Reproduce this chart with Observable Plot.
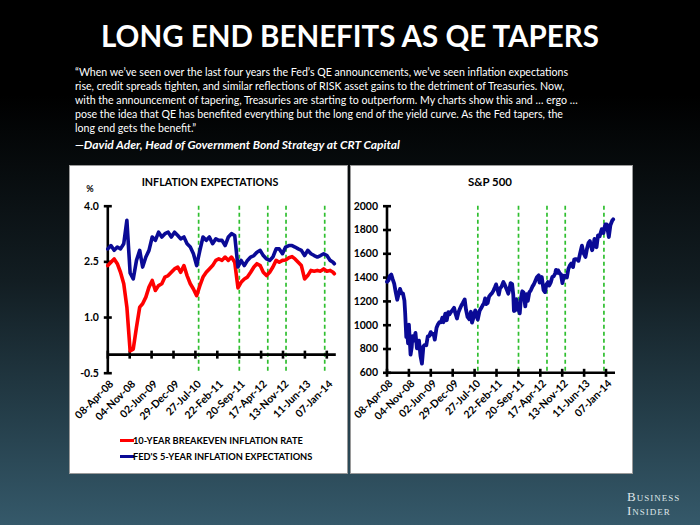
<!DOCTYPE html>
<html><head><meta charset="utf-8">
<script src="https://cdn.jsdelivr.net/npm/d3@7"></script>
<script src="https://cdn.jsdelivr.net/npm/@observablehq/plot@0.6"></script>
<style>
html,body{margin:0;padding:0;}
body{width:700px;height:525px;overflow:hidden;position:relative;
 background:linear-gradient(to bottom,#000 0px,#000 95px,#121d22 280px,#253f4b 420px,#35596a 525px);
 font-family:Lato,"Open Sans",sans-serif;}
.abs{position:absolute;white-space:nowrap;line-height:1;transform:translateY(-50%);}
.ctr{transform:translate(-50%,-50%);}
#title{color:#fff;font-weight:700;font-size:30px;left:350px;top:36px;}
.q{color:#fff;font-size:12px;left:75px;}
#attr{color:#fff;font-size:14px;font-weight:700;font-style:italic;left:75px;top:145px;}
.panel{position:absolute;background:#fff;box-shadow:0 0 0 1px #9a9a9a;overflow:visible;}
.ptitle{font-weight:700;font-size:12px;color:#000;}
.leg{font-weight:700;font-size:10px;color:#000;}
.sw{position:absolute;height:3px;width:14px;}
#bi{color:#dfe5e8;font-family:"Liberation Serif","DejaVu Serif",serif;font-variant:small-caps;letter-spacing:1px;font-size:13px;}
</style></head>
<body>
<div id="title" class="abs ctr">LONG END BENEFITS AS QE TAPERS</div>
<div id="q1" class="abs q" style="top:72px">“When we’ve seen over the last four years the Fed’s QE announcements, we’ve seen inflation expectations</div>
<div id="q2" class="abs q" style="top:86px">rise, credit spreads tighten, and similar reflections of RISK asset gains to the detriment of Treasuries. Now,</div>
<div id="q3" class="abs q" style="top:100px">with the announcement of tapering, Treasuries are starting to outperform. My charts show this and … ergo …</div>
<div id="q4" class="abs q" style="top:114px">pose the idea that QE has benefited everything but the long end of the yield curve. As the Fed tapers, the</div>
<div id="q5" class="abs q" style="top:128px">long end gets the benefit.”</div>
<div id="attr" class="abs">—David Ader, Head of Government Bond Strategy at CRT Capital</div>

<div id="pl" class="panel" style="left:70px;top:166px;width:277px;height:307px"></div>
<div id="pr" class="panel" style="left:351px;top:166px;width:281px;height:307px"></div>

<div id="t1" class="abs ctr ptitle" style="left:210px;top:182px">INFLATION EXPECTATIONS</div>
<div id="t2" class="abs ctr ptitle" style="left:490px;top:182px">S&amp;P 500</div>
<div class="abs ctr" style="left:90px;top:188px;font-weight:700;font-size:9px">%</div>

<div class="sw" style="left:120px;top:439px;background:#ff0000"></div>
<div id="l1" class="abs leg" style="left:133px;top:441px">10-YEAR BREAKEVEN INFLATION RATE</div>
<div class="sw" style="left:120px;top:455px;background:#0a0a96"></div>
<div id="l2" class="abs leg" style="left:133px;top:457px">FED'S 5-YEAR INFLATION EXPECTATIONS</div>

<div id="bi" class="abs" style="left:627px;top:504px;line-height:14px">Business<br>Insider</div>

<script>
// ---------- DATA ----------
const tickDates = ["2008-04-08","2008-11-04","2009-06-02","2009-12-29","2010-07-27","2011-02-22",
  "2011-09-20","2012-04-17","2012-11-13","2013-06-11","2014-01-07"];
const axisEndDate = "2014-04-08";
const eventDates = ["2010-08-27","2011-09-21","2012-06-20","2012-12-12","2013-12-18"];

const inflTicks = [-0.5, 1.0, 2.5, 4.0];
const spTicks = [600, 800, 1000, 1200, 1400, 1600, 1800, 2000];

const inflDates = ["2008-04-08","2008-05-08","2008-06-08","2008-07-08","2008-08-08","2008-09-08","2008-10-08","2008-11-08","2008-12-08",
 "2009-01-08","2009-02-08","2009-03-08","2009-04-08","2009-05-08","2009-06-08","2009-07-08","2009-08-08","2009-09-08","2009-10-08","2009-11-08","2009-12-08",
 "2010-01-08","2010-02-08","2010-03-08","2010-04-08","2010-05-08","2010-06-08","2010-07-08","2010-08-08","2010-09-08","2010-10-08","2010-11-08","2010-12-08",
 "2011-01-08","2011-02-08","2011-03-08","2011-04-08","2011-05-08","2011-06-08","2011-07-08","2011-08-08","2011-09-08","2011-10-08","2011-11-08","2011-12-08",
 "2012-01-08","2012-02-08","2012-03-08","2012-04-08","2012-05-08","2012-06-08","2012-07-08","2012-08-08","2012-09-08","2012-10-08","2012-11-08","2012-12-08",
 "2013-01-08","2013-02-08","2013-03-08","2013-04-08","2013-05-08","2013-06-08","2013-07-08","2013-08-08","2013-09-08","2013-10-08","2013-11-08","2013-12-08",
 "2014-01-08","2014-02-08","2014-03-08","2014-03-20"];
const breakeven10y = [2.40,2.49,2.58,2.45,2.22,1.91,1.28,0.10,0.15,
 0.74,1.28,1.37,1.55,1.82,2.00,1.73,1.86,1.91,2.09,2.13,2.22,
 2.31,2.36,2.22,2.40,2.13,1.91,1.77,1.59,1.86,2.09,2.22,2.31,
 2.40,2.54,2.58,2.54,2.63,2.54,2.63,2.49,1.80,1.95,2.04,2.09,
 2.22,2.36,2.45,2.40,2.22,2.13,2.22,2.36,2.54,2.49,2.54,2.55,
 2.61,2.64,2.58,2.49,2.40,2.04,2.13,2.27,2.25,2.27,2.25,2.31,
 2.25,2.27,2.22,2.18];
const fed5y = [2.85,2.94,2.81,2.90,2.85,2.99,3.62,2.20,2.04,
 2.54,2.81,2.36,2.63,2.81,3.17,3.08,3.30,3.17,3.26,3.30,3.17,
 3.30,3.21,3.12,3.17,2.99,2.90,2.72,2.40,2.81,3.17,3.08,3.17,
 2.99,3.12,3.08,3.08,2.94,3.17,3.26,3.21,2.36,2.54,2.40,2.54,
 2.63,2.67,2.76,2.81,2.67,2.58,2.54,2.63,2.85,2.85,2.72,2.90,
 2.94,2.94,2.90,2.85,2.81,2.67,2.81,2.72,2.67,2.63,2.67,2.72,
 2.67,2.54,2.49,2.45];

const spDates = ["2008-04-08","2008-04-22","2008-05-06","2008-05-19","2008-06-02","2008-06-16","2008-06-30","2008-07-15","2008-07-29",
 "2008-08-11","2008-08-25","2008-09-08","2008-09-22","2008-09-29","2008-10-10","2008-10-13","2008-10-27","2008-11-04","2008-11-20",
 "2008-12-01","2008-12-08","2008-12-22","2009-01-06","2009-01-20","2009-02-09","2009-02-23","2009-03-09","2009-03-23","2009-04-06",
 "2009-04-20","2009-05-04","2009-05-18","2009-06-01","2009-06-15","2009-06-29","2009-07-10","2009-07-27","2009-08-10","2009-08-24",
 "2009-09-08","2009-09-21","2009-10-02","2009-10-19","2009-11-02","2009-11-16","2009-11-27","2009-12-14","2009-12-28","2010-01-11",
 "2010-01-25","2010-02-08","2010-02-22","2010-03-08","2010-03-22","2010-04-05","2010-04-23","2010-05-06","2010-05-20","2010-06-07",
 "2010-06-21","2010-07-02","2010-07-19","2010-08-02","2010-08-16","2010-08-26","2010-09-13","2010-09-27","2010-10-11","2010-10-25",
 "2010-11-05","2010-11-16","2010-11-29","2010-12-13","2010-12-27","2011-01-10","2011-01-24","2011-02-07","2011-02-18","2011-03-01",
 "2011-03-16","2011-03-28","2011-04-11","2011-04-29","2011-05-09","2011-05-23","2011-06-06","2011-06-15","2011-06-30","2011-07-07",
 "2011-07-22","2011-08-02","2011-08-08","2011-08-19","2011-08-31","2011-09-12","2011-09-22","2011-10-03","2011-10-14","2011-10-27",
 "2011-11-08","2011-11-25","2011-12-07","2011-12-19","2012-01-03","2012-01-17","2012-02-01","2012-02-15","2012-03-01","2012-03-15",
 "2012-04-02","2012-04-10","2012-04-23","2012-05-01","2012-05-18","2012-06-01","2012-06-15","2012-06-29","2012-07-12","2012-07-26",
 "2012-08-10","2012-08-24","2012-09-07","2012-09-14","2012-09-28","2012-10-05","2012-10-22","2012-11-01","2012-11-15","2012-11-30",
 "2012-12-14","2012-12-28","2013-01-11","2013-01-25","2013-02-08","2013-02-25","2013-03-08","2013-03-22","2013-04-05","2013-04-18",
 "2013-05-02","2013-05-21","2013-06-05","2013-06-24","2013-07-08","2013-07-23","2013-08-05","2013-08-27","2013-09-09","2013-09-18",
 "2013-10-08","2013-10-22","2013-11-07","2013-11-27","2013-12-13","2013-12-31","2014-01-15","2014-02-03","2014-02-18","2014-03-07",
 "2014-03-17"];
const spValues = [1365,1376,1415,1426,1385,1350,1280,1214,1264,
 1305,1267,1267,1207,1106,899,1003,848,1005,752,
 816,909,871,935,805,870,743,677,822,835,
 832,907,909,942,923,927,879,979,1008,1025,
 1025,1064,1025,1097,1042,1110,1091,1114,1128,1146,
 1096,1056,1108,1138,1166,1187,1217,1128,1071,1050,
 1113,1022,1071,1125,1080,1047,1121,1142,1165,1185,
 1225,1178,1187,1240,1257,1269,1291,1319,1343,1306,
 1257,1310,1324,1363,1346,1317,1286,1265,1321,1353,
 1345,1254,1119,1123,1218,1162,1129,1099,1224,1285,
 1275,1158,1261,1205,1277,1293,1324,1343,1374,1402,
 1419,1358,1366,1405,1295,1278,1342,1362,1334,1360,
 1405,1411,1437,1465,1440,1461,1433,1427,1353,1416,
 1413,1402,1472,1503,1518,1488,1551,1556,1553,1541,
 1597,1669,1608,1573,1640,1692,1707,1630,1671,1725,
 1655,1754,1747,1807,1775,1848,1848,1741,1840,1878,
 1890];

// ---------- BUILD ----------
const P = d3.utcParse("%Y-%m-%d");
const ticks = tickDates.map(P);
const events = eventDates.map(P);
const xDomain = [ticks[0], P(axisEndDate)];
const infl = inflDates.map((d, i) => ({date: P(d), be: breakeven10y[i], fed: fed5y[i]}));
const sp = spDates.map((d, i) => ({date: P(d), v: spValues[i]}));

const hTick = {draw(ctx) { ctx.rect(-4, -1.3, 8, 2.6); }};
const vTick = {draw(ctx) { ctx.rect(-1.3, -4, 2.6, 8); }};
const fmtDate = d3.utcFormat("%d-%b-%y");
const style = {background: "transparent", fontFamily: "Lato, sans-serif", fontSize: "10px", fontWeight: 700, color: "#000", overflow: "visible"};
const green = "#2fbf2f";

function axesMarks(yTicks, yBase, yFmt) {
  return [
    Plot.ruleX(events, {x: d => d, stroke: green, strokeWidth: 1.7, strokeDasharray: "4,3"}),
    Plot.ruleY([yBase], {stroke: "#000", strokeWidth: 2.6}),
    Plot.ruleX([ticks[0]], {x: d => d, stroke: "#000", strokeWidth: 2.6}),
    Plot.dot(yTicks, {x: () => ticks[0], y: d => d, symbol: hTick, fill: "#000", stroke: "none"}),
    Plot.dot(ticks, {x: d => d, y: () => yBase, symbol: vTick, fill: "#000", stroke: "none"}),
    Plot.axisY({ticks: yTicks, label: null, tickSize: 0, tickPadding: 9, tickFormat: yFmt, fontWeight: 700, fontSize: 10.5}),
    Plot.axisX({ticks: ticks, label: null, tickSize: 0, tickPadding: 9, dx: 4, tickRotate: -45, tickFormat: fmtDate, fontWeight: 700, fontSize: 10.5})
  ];
}

const left = Plot.plot({
  width: 277, height: 307,
  marginLeft: 37.3, marginRight: 11.2, marginTop: 39.7, marginBottom: 100.3,
  x: {type: "utc", domain: xDomain, label: null},
  y: {domain: [inflTicks[0], inflTicks[inflTicks.length - 1]], label: null},
  style,
  marks: [
    ...axesMarks(inflTicks, 0, d => d.toFixed(1)),
    Plot.line(infl, {x: "date", y: "be", stroke: "#ff0000", strokeWidth: 3.6, strokeLinejoin: "round"}),
    Plot.line(infl, {x: "date", y: "fed", stroke: "#0a0a96", strokeWidth: 3.6, strokeLinejoin: "round"})
  ]
});
document.getElementById("pl").appendChild(left);

const right = Plot.plot({
  width: 281, height: 307,
  marginLeft: 35.5, marginRight: 17, marginTop: 39.7, marginBottom: 100.7,
  x: {type: "utc", domain: xDomain, label: null},
  y: {domain: [spTicks[0], spTicks[spTicks.length - 1]], label: null},
  style,
  marks: [
    ...axesMarks(spTicks, spTicks[0], d => String(d)),
    Plot.line(sp, {x: "date", y: "v", stroke: "#0a0a96", strokeWidth: 3.8, strokeLinejoin: "round"})
  ]
});
document.getElementById("pr").appendChild(right);

// ---------- fit text widths ----------
function fit(id, w) {
  const el = document.getElementById(id);
  const cur = el.getBoundingClientRect().width;
  const fs = parseFloat(getComputedStyle(el).fontSize);
  el.style.fontSize = (fs * w / cur) + "px";
}
fit("title", 498);
fit("q2", 490);
const qfs = document.getElementById("q2").style.fontSize;
["q1","q3","q4","q5"].forEach(id => document.getElementById(id).style.fontSize = qfs);
fit("attr", 325);
fit("t1", 137);
fit("t2", 44);
fit("l1", 170);
document.getElementById("l2").style.fontSize = document.getElementById("l1").style.fontSize;
</script>
</body></html>
